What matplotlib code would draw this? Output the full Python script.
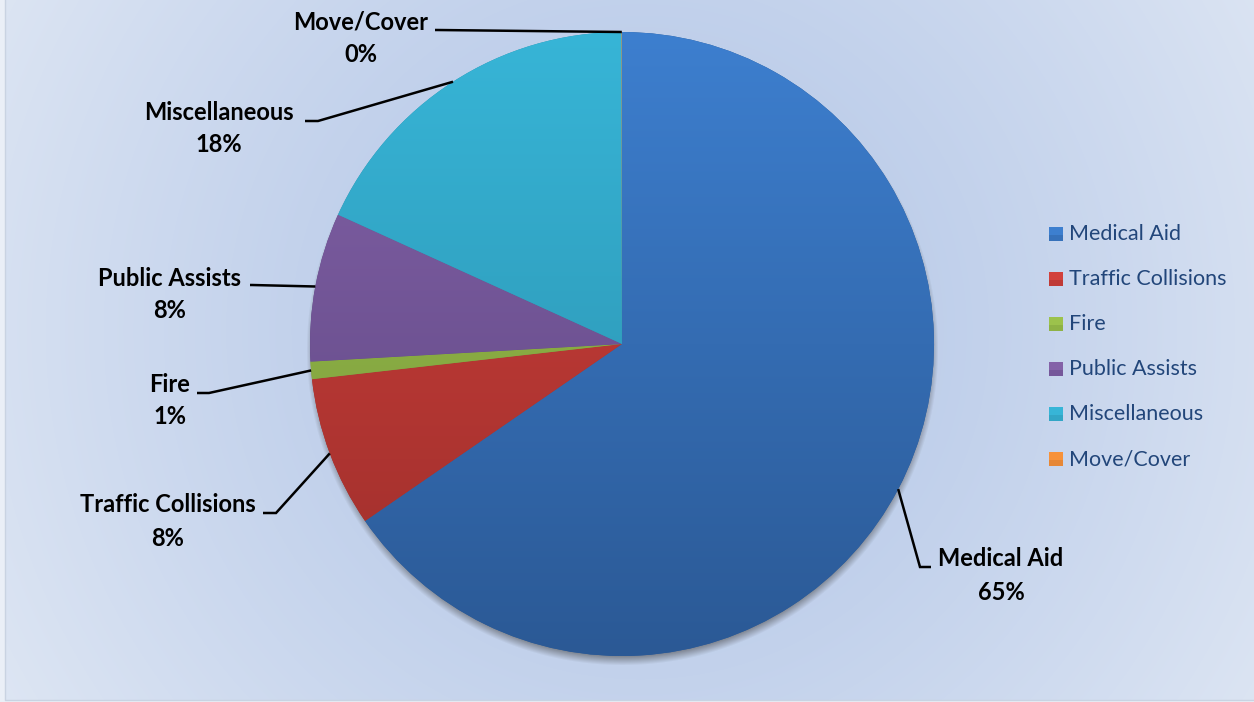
import numpy as np
import matplotlib.pyplot as plt
from matplotlib.patches import Rectangle
from matplotlib.colors import to_rgb

# Incident call types (share of total calls, %)
categories = ["Medical Aid", "Traffic Collisions", "Fire", "Public Assists",
              "Miscellaneous", "Move/Cover"]
shares = [65.4, 7.8, 0.9, 7.7, 18.18, 0.02]

top_colors = ["#3d7fcf", "#d2413c", "#9cc24c", "#8462a8", "#37b5d7", "#f7923a"]
bottom_colors = ["#2b5995", "#9c2e2b", "#76953a", "#5b4580", "#2a8ca9", "#c8732f"]

W, H = 1254, 702
fig = plt.figure(figsize=(W / 100, H / 100), dpi=100)
fig.patch.set_facecolor("#eaeff7")
ax = fig.add_axes([0, 0, 1, 1])
ax.axis("off")


def Y(y):
    # layout helper: pixel rows counted from the top
    return H - y


# radial background gradient
bx0, bx1, by0, by1 = 5, W, 2, H
gy, gx = np.mgrid[0:by1 - by0, 0:bx1 - bx0]
d = np.hypot(gx + bx0 - 640, gy - 330)
t = np.clip(d / 760, 0, 1) ** 1.3
c_in = np.array(to_rgb("#b3c6e7"))
c_out = np.array(to_rgb("#dfe7f4"))
bg = c_in[None, None, :] * (1 - t[..., None]) + c_out[None, None, :] * t[..., None]
ax.imshow(bg, extent=(bx0, bx1, by0, by1), origin="upper", zorder=0,
          interpolation="bilinear")
ax.plot([bx0, bx0, W], [H, by0, by0], color="#c9d3e2", lw=1, zorder=1)

cx, cy, R = 622, Y(344), 312

# soft drop shadow under the pie
pad = 30
sy, sx = np.mgrid[0:2 * (R + pad), 0:2 * (R + pad)]
ds = np.hypot(sx - (R + pad), sy - (R + pad) - 5)
alpha = 0.5 * np.clip((R + 4 - ds) / 9, 0, 1)
shadow = np.zeros(ds.shape + (4,))
shadow[..., :3] = 0.25
shadow[..., 3] = alpha
ax.imshow(shadow, extent=(cx - R - pad, cx + R + pad, cy - R - pad, cy + R + pad),
          origin="upper", zorder=2, interpolation="bilinear")

wedges, _ = ax.pie(shares, startangle=90, counterclock=False, center=(cx, cy),
                   radius=R, colors=bottom_colors,
                   wedgeprops=dict(linewidth=0, zorder=3))

# vertical light-to-dark fill on every slice
n = 400
tt = np.linspace(0, 1, n)[:, None, None]
for w, ct, cb in zip(wedges, top_colors, bottom_colors):
    a = np.array(to_rgb(ct))[None, None, :]
    b = np.array(to_rgb(cb))[None, None, :]
    grad = a * (1 - tt) + b * tt
    grad = np.repeat(grad, 2, axis=1)
    im = ax.imshow(grad, extent=(cx - R, cx + R, cy - R, cy + R), origin="upper",
                   zorder=4, interpolation="bilinear")
    im.set_clip_path(w)

# data labels with leader lines: (elbow, end, label centre) in pixel rows
label_layout = {
    "Medical Aid": ((920, 567), (931, 567), (1001, 559)),
    "Traffic Collisions": ((276, 513), (263, 513), (168, 505)),
    "Fire": ((209, 393), (197, 393), (170, 384)),
    "Public Assists": ((252, 285), (250, 285), (170, 278)),
    "Miscellaneous": ((318, 121), (305, 121), (219, 112)),
    "Move/Cover": ((437, 30), (435, 30), (361, 22)),
}

label_font = dict(family=["Lato", "DejaVu Sans"], fontsize=17,
                  fontweight="bold", color="black")
for w, name, val in zip(wedges, categories, shares):
    mid = np.deg2rad((w.theta1 + w.theta2) / 2)
    px, py = cx + R * np.cos(mid), cy + R * np.sin(mid)
    (ex, ey), (fx, fy), (lx, ly) = label_layout[name]
    ax.plot([px, ex, fx], [py, Y(ey), Y(fy)], color="black", lw=1.8,
            zorder=6, solid_capstyle="butt", solid_joinstyle="miter")
    ax.text(lx, Y(ly), name, ha="center", va="center", zorder=7, **label_font)
    ax.text(lx, Y(ly + 33), f"{val:.0f}%", ha="center", va="center", zorder=7,
            **label_font)

# legend
leg_y = [234, 279, 324, 369, 414, 459]
for name, ct, cb, ly in zip(categories, top_colors, bottom_colors, leg_y):
    ax.add_patch(Rectangle((1049, Y(ly) - 7), 14, 14, facecolor=ct,
                           edgecolor="none", zorder=6))
    ax.add_patch(Rectangle((1049, Y(ly) - 7), 14, 6, facecolor=cb,
                           edgecolor="none", alpha=0.35, zorder=6))
    ax.text(1069, Y(ly), name, ha="left", va="center", fontsize=15.5,
            family=["Lato", "DejaVu Sans"], color="#22467a", zorder=7)

ax.set_xlim(0, W)
ax.set_ylim(0, H)
ax.set_aspect("auto")
fig.savefig("out.png", dpi=100, facecolor=fig.get_facecolor())
